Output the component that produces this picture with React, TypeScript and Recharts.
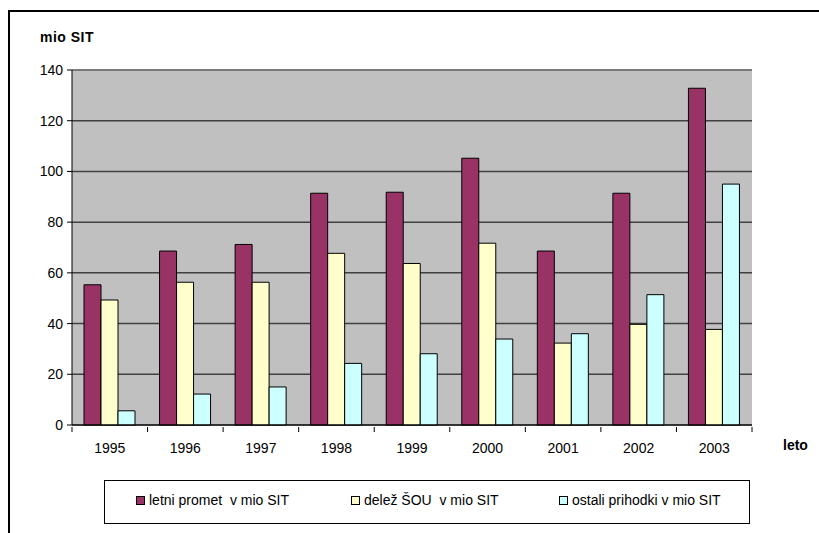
import React from 'react';
import { BarChart, Bar, XAxis, YAxis, CartesianGrid, ReferenceLine } from 'recharts';

const years = ['1995', '1996', '1997', '1998', '1999', '2000', '2001', '2002', '2003'];
const letniPromet = [55.3, 68.6, 71.2, 91.4, 91.8, 105.2, 68.6, 91.4, 132.8];
const delezSou = [49.3, 56.3, 56.3, 67.7, 63.7, 71.7, 32.3, 39.7, 37.7];
const ostaliPrihodki = [5.6, 12.2, 15.0, 24.3, 28.1, 33.9, 36.0, 51.4, 95.0];
const yTicks = [0, 20, 40, 60, 80, 100, 120, 140];

const seriesNames = ['letni promet  v mio SIT', 'delež ŠOU  v mio SIT', 'ostali prihodki v mio SIT'];
const seriesColors = ['#993366', '#FFFFCC', '#CCFFFF'];

const data = years.map((year, i) => ({
  year,
  promet: letniPromet[i],
  delez: delezSou[i],
  ostali: ostaliPrihodki[i],
}));

const FONT = '"Liberation Sans", Arial, sans-serif';
const PLOT_LEFT = 72;
const PLOT_RIGHT = 752;
const BAND = (PLOT_RIGHT - PLOT_LEFT) / years.length;

// Excel-style ticks sit between categories, labels in the middle
const XTick = (props: any) => {
  const { x, y, payload, index } = props;
  const left = x - BAND / 2;
  return (
    <g>
      <line x1={left} y1={y} x2={left} y2={y + 5} stroke="#000" />
      {index === years.length - 1 && (
        <line x1={x + BAND / 2} y1={y} x2={x + BAND / 2} y2={y + 5} stroke="#000" />
      )}
      <text x={x} y={y + 26} textAnchor="middle" fontSize={14} fontFamily={FONT} fill="#000">
        {payload.value}
      </text>
    </g>
  );
};

// legend entries sit in equal-width slots like Excel does
const legendPos = [136, 351, 559];

export default function App() {
  return (
    <div style={{ position: 'absolute', left: 0, top: 0, width: 819, height: 533, overflow: 'hidden', fontFamily: FONT, background: '#fff' }}>
      <div style={{ position: 'absolute', left: 8, top: 10, width: 900, height: 600, borderLeft: '2px solid #000', borderTop: '2px solid #000' }} />
      <div style={{ position: 'absolute', left: 40, top: 29, fontSize: 14, fontWeight: 'bold', letterSpacing: 0.5 }}>mio SIT</div>
      <div style={{ position: 'absolute', left: 783, top: 437, fontSize: 14, fontWeight: 'bold' }}>leto</div>

      <div style={{ position: 'absolute', left: 0, top: 0 }}>
        <BarChart
          width={819}
          height={533}
          data={data}
          margin={{ top: 70, right: 819 - PLOT_RIGHT, bottom: 78, left: 0 }}
          barGap={0}
          barCategoryGap={12}
        >
          <CartesianGrid vertical={false} stroke="#404040" strokeWidth={1.5} fill="#C0C0C0" fillOpacity={1} />
          <XAxis
            dataKey="year"
            height={30}
            axisLine={{ stroke: '#000' }}
            tickLine={false}
            tickSize={0}
            tick={<XTick />}
            interval={0}
          />
          <YAxis
            width={PLOT_LEFT}
            domain={[0, 140]}
            ticks={yTicks}
            interval={0}
            axisLine={{ stroke: '#000' }}
            tickLine={{ stroke: '#000' }}
            tickSize={5}
            tickMargin={4}
            tick={{ fill: '#000', fontSize: 14, fontFamily: FONT }}
          />
          <YAxis yAxisId="right" orientation="right" width={0} tick={false} tickLine={false} axisLine={{ stroke: '#808080' }} />
          <ReferenceLine y={140} stroke="#808080" strokeWidth={1.5} />
          <Bar dataKey="promet" fill={seriesColors[0]} stroke="#000" strokeWidth={1} isAnimationActive={false} />
          <Bar dataKey="delez" fill={seriesColors[1]} stroke="#000" strokeWidth={1} isAnimationActive={false} />
          <Bar dataKey="ostali" fill={seriesColors[2]} stroke="#000" strokeWidth={1} isAnimationActive={false} />
        </BarChart>
      </div>

      <div style={{ position: 'absolute', left: 104, top: 480, width: 644, height: 42, border: '1px solid #000', background: '#fff' }} />
      {seriesNames.map((name, i) => (
        <div key={name} style={{ position: 'absolute', left: legendPos[i], top: 492, display: 'flex', alignItems: 'center', fontSize: 14, whiteSpace: 'pre' }}>
          <span style={{ display: 'inline-block', width: 7, height: 7, background: seriesColors[i], border: '1px solid #000', marginRight: 4 }} />
          <span>{name}</span>
        </div>
      ))}
    </div>
  );
}
